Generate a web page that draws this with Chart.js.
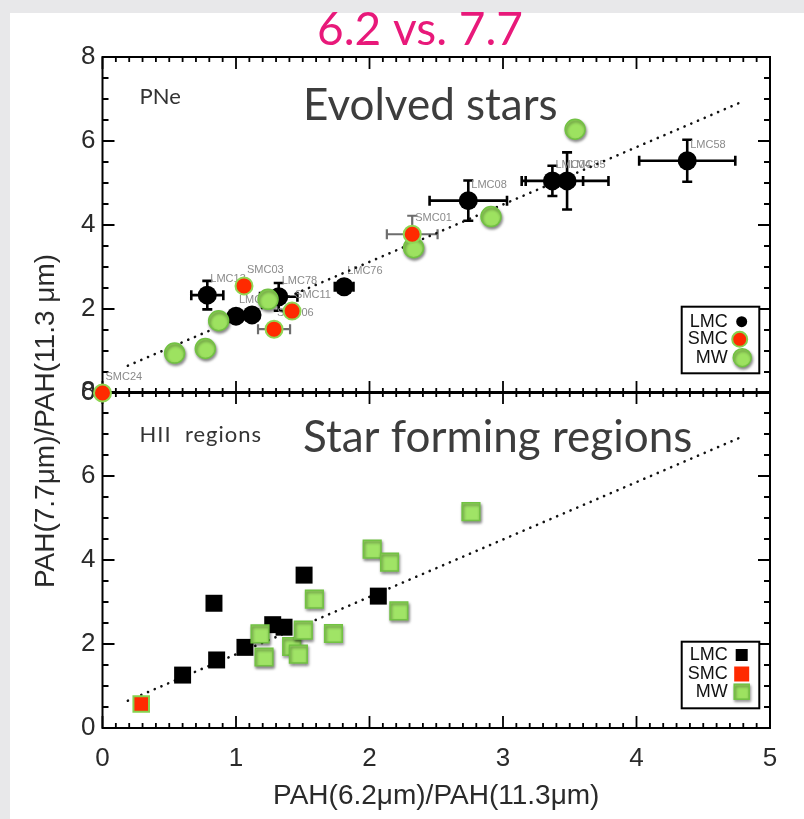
<!DOCTYPE html>
<html><head><meta charset="utf-8">
<script src="https://cdn.jsdelivr.net/npm/chart.js@4.4.1/dist/chart.umd.min.js"></script>
<style>
html,body{margin:0;padding:0;background:#e8e8ea;}
#wrap{position:relative;width:804px;height:819px;overflow:hidden;}
#paper{position:absolute;left:10px;top:13px;width:794px;height:806px;background:#fff;}
canvas{position:absolute;left:0;top:0;}
</style></head><body>
<div id="wrap"><div id="paper"></div>
<canvas id="bot" width="804" height="819"></canvas>
<canvas id="top" width="804" height="819"></canvas>
</div>
<script>
// ---------- data ----------
// Top panel: planetary nebulae (PNe)
const pneLmcX    = [0.785, 1.00, 1.12, 1.32, 1.81, 2.74, 3.37, 3.48, 4.38];
const pneLmcY    = [2.33, 1.83, 1.86, 2.29, 2.53, 4.58, 5.05, 5.05, 5.53];
const pneLmcXErr = [0.12, 0, 0, 0.14, 0.07, 0.29, 0.23, 0.31, 0.36];
const pneLmcYErr = [0.34, 0, 0, 0.33, 0.08, 0.48, 0.36, 0.68, 0.50];
const pneLmcNames = ['LMC13', 'LMC02', '', 'LMC78', 'LMC76', 'LMC08', 'LMC04', 'LMC85', 'LMC58'];

const pneSmcX    = [0.00, 1.06, 1.285, 1.42, 2.32];
const pneSmcY    = [0.00, 2.55, 1.52, 1.95, 3.78];
const pneSmcXErr = [0, 0, 0.12, 0, 0.19];
const pneSmcYErr = [0, 0, 0, 0, 0.44];
const pneSmcNames = ['SMC24', 'SMC03', 'SMC06', 'SMC11', 'SMC01'];

const pneMwX = [0.54, 0.77, 0.87, 1.24, 2.33, 2.91, 3.54];
const pneMwY = [0.95, 1.06, 1.72, 2.23, 3.46, 4.20, 6.28];

// Bottom panel: HII regions
const hiiLmcX = [0.60, 0.835, 0.855, 1.067, 1.275, 1.36, 1.51, 2.066];
const hiiLmcY = [1.26, 2.97, 1.62, 1.92, 2.46, 2.40, 3.64, 3.14];
const hiiSmcX = [0.29];
const hiiSmcY = [0.57];
const hiiMwX = [1.18, 1.21, 1.417, 1.467, 1.504, 1.587, 1.73, 2.02, 2.15, 2.22, 2.76];
const hiiMwY = [2.24, 1.69, 1.94, 1.76, 2.33, 3.07, 2.25, 4.26, 3.95, 2.79, 5.15];

// dotted relation drawn in both panels
const fitX = [0.19, 4.78];
const fitY = [0.65, 6.92];

// axes
const xTickValues = [0, 1, 2, 3, 4, 5];
const yTickValues = [0, 2, 4, 6, 8];
const legendNames = ['LMC', 'SMC', 'MW'];

const titleText = '6.2 vs. 7.7';
const xTitle = 'PAH(6.2\u03bcm)/PAH(11.3\u03bcm)';
const yTitle = 'PAH(7.7\u03bcm)/PAH(11.3 \u03bcm)';

// ---------- helpers ----------
const pts = (xs, ys) => xs.map((x, i) => ({x: x, y: ys[i]}));
const AX_FONT = 'Liberation Sans, Arial, sans-serif';
const GILL = 'Lato, "Open Sans", sans-serif';
const GREEN = '#9de260', GREEN_EDGE = '#72c243', RED = '#ff2a00';

const frameTicks = {
  id: 'frameTicks',
  beforeDatasetsDraw(chart) {
    const {ctx, chartArea: a, scales} = chart;
    const xs = scales.x, ys = scales.y;
    ctx.save();
    ctx.strokeStyle = '#000';
    ctx.lineWidth = 2;
    ctx.strokeRect(a.left, a.top, a.right - a.left, a.bottom - a.top);
    ctx.lineWidth = 1.8;
    ctx.beginPath();
    for (let i = 0; i <= 50; i++) {
      const px = xs.getPixelForValue(i / 10);
      const len = i % 10 === 0 ? 12 : 5;
      ctx.moveTo(px, a.bottom); ctx.lineTo(px, a.bottom - len);
      ctx.moveTo(px, a.top); ctx.lineTo(px, a.top + len);
    }
    for (let i = 0; i <= 16; i++) {
      const py = ys.getPixelForValue(i / 2);
      const len = i % 4 === 0 ? 12 : 6;
      ctx.moveTo(a.left, py); ctx.lineTo(a.left + len, py);
      ctx.moveTo(a.right, py); ctx.lineTo(a.right - len, py);
    }
    ctx.stroke();
    ctx.restore();
  }
};

const errorBars = {
  id: 'errorBars',
  beforeDatasetsDraw(chart, args, opts) {
    const {ctx, scales} = chart;
    const xs = scales.x, ys = scales.y;
    ctx.save();
    (opts.sets || []).forEach(s => {
      ctx.strokeStyle = s.color;
      ctx.lineWidth = s.width;
      ctx.beginPath();
      s.x.forEach((xv, i) => {
        const px = xs.getPixelForValue(xv), py = ys.getPixelForValue(s.y[i]);
        const c = 5;
        if (s.xe[i] > 0) {
          const x1 = xs.getPixelForValue(xv - s.xe[i]), x2 = xs.getPixelForValue(xv + s.xe[i]);
          ctx.moveTo(x1, py); ctx.lineTo(x2, py);
          ctx.moveTo(x1, py - c); ctx.lineTo(x1, py + c);
          ctx.moveTo(x2, py - c); ctx.lineTo(x2, py + c);
        }
        if (s.ye[i] > 0) {
          const y1 = ys.getPixelForValue(s.y[i] - s.ye[i]), y2 = ys.getPixelForValue(s.y[i] + s.ye[i]);
          ctx.moveTo(px, y1); ctx.lineTo(px, y2);
          ctx.moveTo(px - c, y1); ctx.lineTo(px + c, y1);
          ctx.moveTo(px - c, y2); ctx.lineTo(px + c, y2);
        }
      });
      ctx.stroke();
    });
    // point names
    ctx.font = '11px ' + AX_FONT;
    ctx.fillStyle = '#8a8a8a';
    ctx.textBaseline = 'middle';
    ctx.textAlign = 'left';
    (opts.names || []).forEach(n => {
      n.x.forEach((xv, i) => {
        if (!n.t[i]) return;
        ctx.fillText(n.t[i], xs.getPixelForValue(xv) + 3, ys.getPixelForValue(n.y[i]) - 16);
      });
    });
    ctx.restore();
  }
};

const shadow = {
  id: 'shadow',
  beforeDatasetDraw(chart, args) {
    const ds = chart.data.datasets[args.index];
    chart.ctx.save();
    if (ds.shadow) {
      chart.ctx.shadowColor = 'rgba(0,0,0,0.45)';
      chart.ctx.shadowBlur = 3;
      chart.ctx.shadowOffsetX = 1;
      chart.ctx.shadowOffsetY = 2;
    }
  },
  afterDatasetDraw(chart) { chart.ctx.restore(); }
};

const decor = {
  id: 'decor',
  afterDatasetsDraw(chart, args, opts) {
    const {ctx, chartArea: a} = chart;
    ctx.save();
    // panel label
    ctx.fillStyle = '#333';
    ctx.textAlign = 'left';
    ctx.textBaseline = 'alphabetic';
    ctx.font = '22px ' + GILL;
    ctx.letterSpacing = opts.labelSpacing || '0px';
    ctx.fillText(opts.label, a.left + 37, a.top + opts.labelBase);
    ctx.letterSpacing = '0px';
    ctx.fillStyle = '#3d3d3d';
    ctx.font = '44px ' + GILL;
    ctx.fillText(opts.big, 303, a.top + opts.bigBase);

    // legend
    const bx = a.right - 88.3, by = a.bottom - 86.3, bw = 77.6, bh = 66.6;
    ctx.fillStyle = '#fff';
    ctx.fillRect(bx, by, bw, bh);
    ctx.strokeStyle = '#000';
    ctx.lineWidth = 2;
    ctx.strokeRect(bx, by, bw, bh);
    ctx.fillStyle = '#111';
    ctx.font = '18px ' + AX_FONT;
    ctx.textAlign = 'right';
    ctx.textBaseline = 'middle';
    const rows = opts.rows;
    legendNames.forEach((t, i) => ctx.fillText(t, bx + 46, by + rows[i]));
    const sx = bx + 60;
    if (opts.square) {
      ctx.fillStyle = '#000';
      ctx.fillRect(sx - 6, by + rows[0] - 6, 12, 12);
      ctx.fillStyle = RED;
      ctx.fillRect(sx - 7.5, by + rows[1] - 7.5, 15, 15);
      ctx.save();
      ctx.shadowColor = 'rgba(0,0,0,0.45)'; ctx.shadowBlur = 3; ctx.shadowOffsetX = 1; ctx.shadowOffsetY = 2;
      ctx.fillStyle = GREEN; ctx.strokeStyle = GREEN_EDGE; ctx.lineWidth = 1.5;
      ctx.fillRect(sx - 7.5, by + rows[2] - 7.5, 15, 15);
      ctx.strokeRect(sx - 7.5, by + rows[2] - 7.5, 15, 15);
      ctx.restore();
    } else {
      ctx.fillStyle = '#000';
      ctx.beginPath(); ctx.arc(sx, by + rows[0], 5.5, 0, Math.PI * 2); ctx.fill();
      ctx.fillStyle = RED; ctx.strokeStyle = '#85d24e'; ctx.lineWidth = 2;
      ctx.beginPath(); ctx.arc(sx - 2, by + rows[1], 7.5, 0, Math.PI * 2); ctx.fill(); ctx.stroke();
      ctx.save();
      ctx.shadowColor = 'rgba(0,0,0,0.45)'; ctx.shadowBlur = 3; ctx.shadowOffsetX = 1; ctx.shadowOffsetY = 2;
      ctx.fillStyle = GREEN; ctx.strokeStyle = GREEN_EDGE; ctx.lineWidth = 1.5;
      ctx.beginPath(); ctx.arc(sx + 0.5, by + rows[2], 9, 0, Math.PI * 2); ctx.fill(); ctx.stroke();
      ctx.restore();
    }

    if (opts.headline) {
      ctx.fillStyle = '#e8197a';
      ctx.font = '46px ' + GILL;
      ctx.textAlign = 'center';
      ctx.textBaseline = 'alphabetic';
      ctx.fillText(titleText, 420, 45);
      ctx.save();
      ctx.translate(46, 421);
      ctx.rotate(-Math.PI / 2);
      ctx.fillStyle = '#2a2a2a';
      ctx.font = '28px ' + AX_FONT;
      ctx.textAlign = 'center';
      ctx.textBaseline = 'middle';
      ctx.fillText(yTitle, 0, 0);
      ctx.restore();
    }
    ctx.restore();
  }
};

function yScale() {
  return {
    type: 'linear', min: 0, max: 8,
    afterBuildTicks(s) { s.ticks = yTickValues.map(v => ({value: v})); },
    ticks: {font: {family: AX_FONT, size: 26}, color: '#2a2a2a', padding: 7},
    grid: {display: false, drawTicks: false},
    border: {display: false},
    afterFit(s) { s.width = 40; }
  };
}

function fitDataset() {
  return {
    label: 'fit', data: pts(fitX, fitY), showLine: true, pointRadius: 0,
    borderColor: '#111', borderWidth: 2.6, borderDash: [0.1, 7.2], borderCapStyle: 'round',
    order: 10, clip: false
  };
}

// ---------- top panel ----------
new Chart(document.getElementById('top'), {
  type: 'scatter',
  data: {datasets: [
    fitDataset(),
    {label: 'LMC', data: pts(pneLmcX, pneLmcY), pointStyle: 'circle', pointRadius: 9.5,
     backgroundColor: '#000', borderColor: '#000', borderWidth: 0, order: 3, clip: false},
    {label: 'MW', data: pts(pneMwX, pneMwY), pointStyle: 'circle', pointRadius: 10,
     backgroundColor: GREEN, borderColor: GREEN_EDGE, borderWidth: 1.5, order: 2, clip: false, shadow: true},
    {label: 'SMC', data: pts(pneSmcX, pneSmcY), pointStyle: 'circle', pointRadius: 8.5,
     backgroundColor: RED, borderColor: '#8fd653', borderWidth: 2, order: 1, clip: false}
  ]},
  options: {
    responsive: false, animation: false, events: [],
    layout: {padding: {left: 62.5, right: 34, top: 57, bottom: 426}},
    plugins: {
      legend: {display: false}, tooltip: {enabled: false},
      errorBars: {
        sets: [
          {x: pneLmcX, y: pneLmcY, xe: pneLmcXErr, ye: pneLmcYErr, color: '#000', width: 2.6},
          {x: pneSmcX, y: pneSmcY, xe: pneSmcXErr, ye: pneSmcYErr, color: '#6d6d6d', width: 2.2}
        ],
        names: [
          {x: pneLmcX, y: pneLmcY, t: pneLmcNames},
          {x: pneSmcX, y: pneSmcY, t: pneSmcNames}
        ]
      },
      decor: {label: 'PNe', labelBase: 47, big: 'Evolved stars', bigBase: 63,
              rows: [15, 32.6, 51], square: false, headline: true}
    },
    scales: {
      x: {type: 'linear', min: 0, max: 5, display: false},
      y: yScale()
    }
  },
  plugins: [frameTicks, errorBars, shadow, decor]
});

// ---------- bottom panel ----------
new Chart(document.getElementById('bot'), {
  type: 'scatter',
  data: {datasets: [
    fitDataset(),
    {label: 'LMC', data: pts(hiiLmcX, hiiLmcY), pointStyle: 'rect', pointRadius: 12,
     backgroundColor: '#000', borderColor: '#000', borderWidth: 0, order: 3, clip: false},
    {label: 'MW', data: pts(hiiMwX, hiiMwY), pointStyle: 'rect', pointRadius: 12.5,
     backgroundColor: '#a0e466', borderColor: GREEN_EDGE, borderWidth: 1.5, order: 2, clip: false, shadow: true},
    {label: 'SMC', data: pts(hiiSmcX, hiiSmcY), pointStyle: 'rect', pointRadius: 11,
     backgroundColor: RED, borderColor: '#85d24e', borderWidth: 2, order: 1, clip: false}
  ]},
  options: {
    responsive: false, animation: false, events: [],
    layout: {padding: {left: 62.5, right: 34, top: 392, bottom: 6}},
    plugins: {
      legend: {display: false}, tooltip: {enabled: false},
      errorBars: {sets: [], names: []},
      decor: {label: 'HII  regions', labelSpacing: '1px', labelBase: 50, big: 'Star forming regions', bigBase: 60,
              rows: [13.3, 32.3, 50], square: true, headline: false}
    },
    scales: {
      x: {
        type: 'linear', min: 0, max: 5,
        afterBuildTicks(s) { s.ticks = xTickValues.map(v => ({value: v})); },
        ticks: {font: {family: AX_FONT, size: 26}, color: '#2a2a2a', padding: 15},
        grid: {display: false, drawTicks: false},
        border: {display: false},
        title: {display: true, text: xTitle, font: {family: AX_FONT, size: 28}, color: '#2a2a2a', padding: {top: 0, bottom: 0}},
        afterFit(s) { s.height = 85; }
      },
      y: yScale()
    }
  },
  plugins: [frameTicks, errorBars, shadow, decor]
});
</script>
</body></html>
